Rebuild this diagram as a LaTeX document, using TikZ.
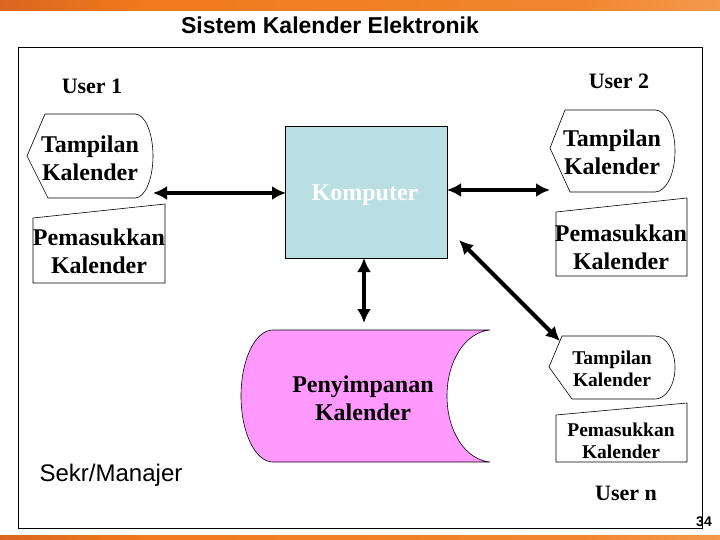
\documentclass[tikz,border=0pt]{standalone}
\usepackage{fontspec}
\setmainfont{Liberation Serif}
\newfontfamily\arialfont{Liberation Sans}
\usetikzlibrary{arrows.meta}
\definecolor{kompfill}{HTML}{B9DFE3}
\definecolor{storefill}{HTML}{FF99FF}
\definecolor{barL}{HTML}{A3342A}
\definecolor{barM}{HTML}{F07A1C}
\definecolor{barR}{HTML}{F9C896}
\pgfdeclarehorizontalshading{slidebar}{100bp}{color(0bp)=(barL); color(35bp)=(barM); color(65bp)=(barM!85!barR); color(100bp)=(barR)}
\begin{document}
\begin{tikzpicture}[x=1pt,y=-1pt,
  shp/.style={draw=black, line width=0.6pt, fill=white},
  bigtxt/.style={font=\bfseries\fontsize{24}{28}\selectfont, align=center, inner sep=0pt},
  smalltxt/.style={font=\bfseries\fontsize{19.5}{22}\selectfont, align=center, inner sep=0pt},
  usertxt/.style={font=\bfseries\fontsize{22}{26}\selectfont, inner sep=0pt},
  biarrow/.style={line width=4pt, {Latex[length=14pt,width=14pt]}-{Latex[length=14pt,width=14pt]}}]
\useasboundingbox (0,0) rectangle (720,540);
\fill[white] (0,0) rectangle (720,540);
% bars
\shade[shading=slidebar] (0,0) rectangle (720,11);
\shade[shading=slidebar] (0,535) rectangle (720,540);
% title
\node (title) at (330,25) {\arialfont\bfseries\fontsize{23}{28}\selectfont Sistem Kalender Elektronik};
% frame
\draw[line width=1pt] (18,48) rectangle (702,528);
% users
\node[usertxt] (user1) at (92,86) {User 1};
\node[usertxt] (user2) at (619,81) {User 2};
\node[usertxt] (usern) at (626,493) {User n};
\node (sekr) at (111,475) {\arialfont\fontsize{24}{28}\selectfont Sekr/Manajer};
% left display
\draw[shp] (27,156) -- (45,114) -- (135,114) .. controls (145,114) and (153,133) .. (153,156) .. controls (153,179) and (145,198) .. (135,198) -- (48,198) -- cycle;
\node[bigtxt] (tamp1) at (90,158) {Tampilan\\Kalender};
% left manual input
\draw[shp] (33,218) -- (165,204) -- (165,283) -- (33,283) -- cycle;
\node[bigtxt] (pem1) at (99,251) {Pemasukkan\\Kalender};
% right display
\draw[shp] (550,148) -- (565,110) -- (655,110) .. controls (666,110) and (675,128) .. (675,151) .. controls (675,174) and (666,192) .. (655,192) -- (570,192) -- cycle;
\node[bigtxt] (tamp2) at (612,152) {Tampilan\\Kalender};
% right manual input
\draw[shp] (556,212) -- (687,198) -- (687,276) -- (556,276) -- cycle;
\node[bigtxt] (pem2) at (621,247) {Pemasukkan\\Kalender};
% small display
\draw[shp] (549,367) -- (562,336) -- (655,336) .. controls (666,336) and (675,350) .. (675,367.5) .. controls (675,385) and (666,399) .. (655,399) -- (572,399) -- cycle;
\node[smalltxt] (tamp3) at (612,369) {Tampilan\\Kalender};
% small manual input
\draw[shp] (556,415) -- (687,403) -- (687,462) -- (556,462) -- cycle;
\node[smalltxt] (pem3) at (621,441) {Pemasukkan\\Kalender};
% komputer
\node[draw=black, line width=0.6pt, fill=kompfill, minimum width=162pt, minimum height=132pt, inner sep=0pt] (komp) at (366,192) {};
\node[bigtxt, text=white] (kompt) at (365,195) {Komputer};
% storage
\draw[draw=black, line width=0.6pt, fill=storefill] (273,330) -- (490,330) .. controls (466,332) and (447,360) .. (447,396) .. controls (447,432) and (466,460) .. (490,462) -- (273,462) .. controls (255,462) and (241,432) .. (241,396) .. controls (241,360) and (255,330) .. (273,330) -- cycle;
\node[bigtxt] (store) at (363,398) {Penyimpanan\\Kalender};
% arrow end points
\coordinate (aL1) at (153,193);
\coordinate (aL2) at (286,193);
\coordinate (aR1) at (447,190);
\coordinate (aR2) at (550,190);
\coordinate (aV1) at (364,258);
\coordinate (aV2) at (364,323);
\coordinate (aD1) at (459,240);
\coordinate (aD2) at (560,341);
\draw[biarrow] (aL1) -- (aL2);
\draw[biarrow] (aR1) -- (aR2);
\draw[biarrow] (aV1) -- (aV2);
\draw[biarrow] (aD1) -- (aD2);
% page number
\node (pnum) at (704,522) {\arialfont\bfseries\fontsize{14}{16}\selectfont 34};
\end{tikzpicture}
\end{document}
